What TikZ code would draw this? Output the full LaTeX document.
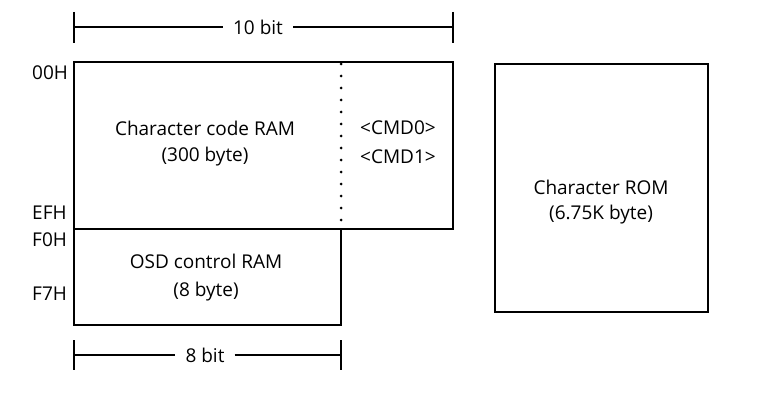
\documentclass[tikz,border=0pt]{standalone}
\usepackage{fontspec}
\setmainfont{Open Sans}
\begin{document}
\begin{tikzpicture}[x=1pt,y=-1pt,
  box/.style={draw=black,line width=2.2pt},
  lbl/.style={font=\fontsize{19}{22}\selectfont,inner sep=1pt},
  gaplbl/.style={lbl,fill=white,inner xsep=10pt,inner ysep=2pt},
  dimline/.style={line width=2pt}]
\useasboundingbox (0,0) rectangle (760,393);
% top dimension
\coordinate (t1) at (74,27);
\coordinate (t2) at (453,27);
\draw[dimline] (74,12) -- (74,43);
\draw[dimline] (453,12) -- (453,43);
\node[gaplbl] (tenbit) at (258,27) {10 bit};
\draw[dimline] (t1) -- (tenbit.west);
\draw[dimline] (tenbit.east) -- (t2);
% main box
\draw[box] (74,62) rectangle (453,229);
\draw[line width=3pt,dash pattern=on 0pt off 12pt,line cap=round] (341,64) -- (341,229);
% lower box
\draw[box] (74,229) -- (74,325) -- (341,325) -- (341,229);
% right box
\draw[box] (495,64) rectangle (708,312);
% texts
\node[lbl] (ccram) at (205,128) {Character code RAM};
\node[lbl] (ccbyte) at (205,157) {(300 byte)};
\node[lbl] (cmd0) at (398,128) {<CMD0>};
\node[lbl] (cmd1) at (398,157) {<CMD1>};
\node[lbl] (osd) at (206,261) {OSD control RAM};
\node[lbl] (osdb) at (206,292) {(8 byte)};
\node[lbl] (crom) at (601,187) {Character ROM};
\node[lbl] (cromb) at (601,215) {(6.75K byte)};
\node[lbl,anchor=west] (a00) at (31,73) {00H};
\node[lbl,anchor=west] (aef) at (31,213) {EFH};
\node[lbl,anchor=west] (af0) at (31,240) {F0H};
\node[lbl,anchor=west] (af7) at (31,294) {F7H};
% bottom dimension
\coordinate (b1) at (74,355);
\coordinate (b2) at (341,355);
\draw[dimline] (74,340) -- (74,370);
\draw[dimline] (341,340) -- (341,370);
\node[gaplbl] (eightbit) at (205,355) {8 bit};
\draw[dimline] (b1) -- (eightbit.west);
\draw[dimline] (eightbit.east) -- (b2);
\end{tikzpicture}
\end{document}
